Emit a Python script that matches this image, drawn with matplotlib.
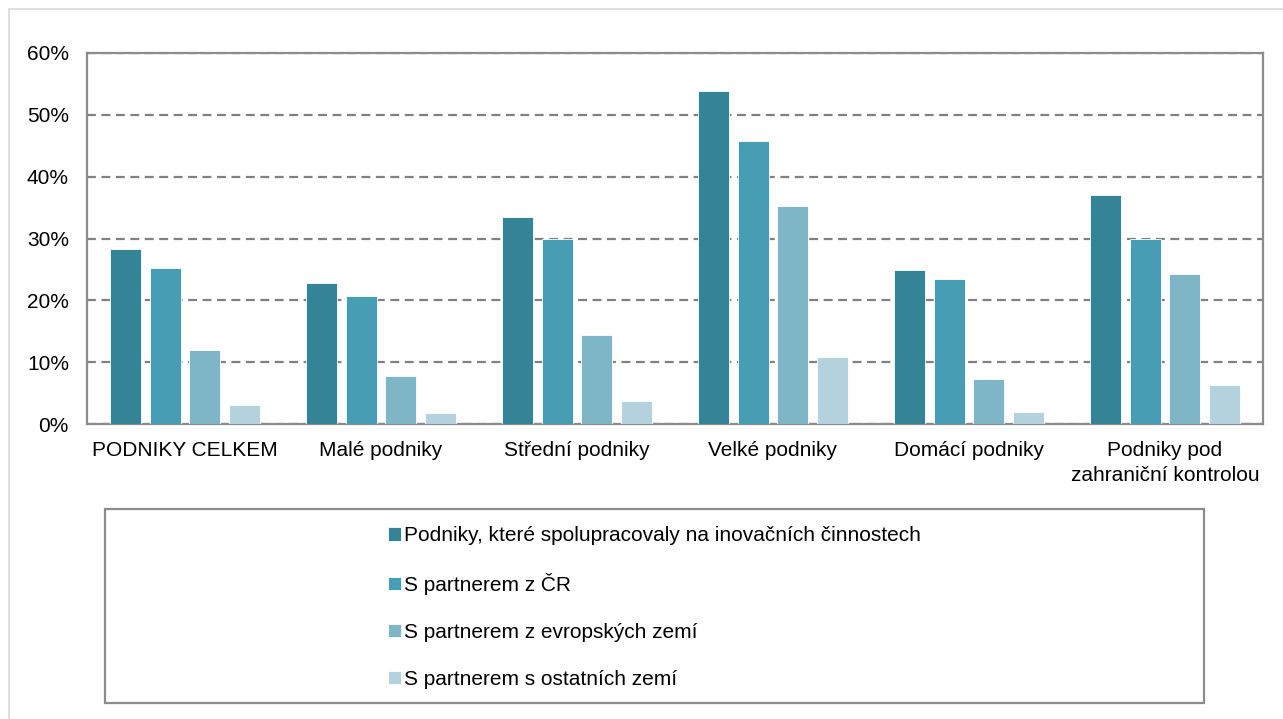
import matplotlib
matplotlib.use("Agg")
import matplotlib.pyplot as plt
from matplotlib.patches import Rectangle
import numpy as np

plt.rcParams['font.family'] = ['Liberation Sans', 'DejaVu Sans']

categories = ["PODNIKY CELKEM", "Malé podniky", "Střední podniky", "Velké podniky",
              "Domácí podniky", "Podniky pod\nzahraniční kontrolou"]
series_names = ["Podniky, které spolupracovaly na inovačních činnostech",
                "S partnerem z ČR",
                "S partnerem z evropských zemí",
                "S partnerem s ostatních zemí"]
spolupracovaly = [28.3, 22.8, 33.5, 53.9, 24.9, 37.1]
partner_cr = [25.2, 20.7, 29.9, 45.8, 23.5, 29.9]
partner_evropa = [11.9, 7.8, 14.4, 35.2, 7.3, 24.2]
partner_ostatni = [3.1, 1.8, 3.8, 10.8, 1.9, 6.3]
yticks = [0, 10, 20, 30, 40, 50, 60]
colors = ["#358396", "#469DB4", "#7EB6C8", "#B3D2DE"]

series = [spolupracovaly, partner_cr, partner_evropa, partner_ostatni]

fig = plt.figure(figsize=(12.83, 7.19), dpi=100)
fig.patch.set_facecolor("white")

# outer border
fig.add_artist(Rectangle((9/1283, -0.05), 1.1, 1 - 9/719 + 0.05, transform=fig.transFigure,
                         fill=False, edgecolor="#d9d9d9", linewidth=1.2))

ax = fig.add_axes([87/1283, 1 - 424/719, (1263 - 87)/1283, (424 - 53)/719])

x = np.arange(len(categories))
w = 0.158
step = 0.203
bars = []
for i, (vals, c) in enumerate(zip(series, colors)):
    off = (i - 1.5) * step
    b = ax.bar(x + off, vals, width=w, color=c, edgecolor="white", linewidth=0.6,
               label=series_names[i], zorder=3)
    bars.append(b)

ax.set_xlim(-0.5, len(categories) - 0.5)
ax.set_ylim(0, 60)
ax.set_yticks(yticks)
ax.set_yticklabels([f"{v}%" for v in yticks], fontsize=15)
ax.set_xticks(x)
ax.set_xticklabels(categories, fontsize=15, linespacing=1.4)
ax.tick_params(axis='both', length=0, colors="black")
ax.tick_params(axis='y', pad=13)
ax.tick_params(axis='x', pad=12)

ax.yaxis.grid(True, linestyle=(0, (4, 2.5)), color="#808080", linewidth=1.6, zorder=0)
ax.set_axisbelow(True)
for s in ["left", "bottom", "right", "top"]:
    ax.spines[s].set_color("#8c8c8c")
    ax.spines[s].set_linewidth(1.6)

# legend box
bx0, bx1, by0, by1 = 105, 1204, 509, 703
fig.add_artist(Rectangle((bx0/1283, 1 - by1/719), (bx1 - bx0)/1283, (by1 - by0)/719,
                         transform=fig.transFigure, fill=False, edgecolor="#8c8c8c",
                         linewidth=1.6))
leg = fig.legend(handles=bars, labels=series_names, loc="center",
                 bbox_to_anchor=((bx0 + bx1) / 2 / 1283, 1 - 607.5/719),
                 frameon=False, fontsize=15, handlelength=0.6, handleheight=0.6,
                 handletextpad=0.15, labelspacing=1.33, borderaxespad=0)

fig.savefig("out.png", dpi=100, facecolor="white")
